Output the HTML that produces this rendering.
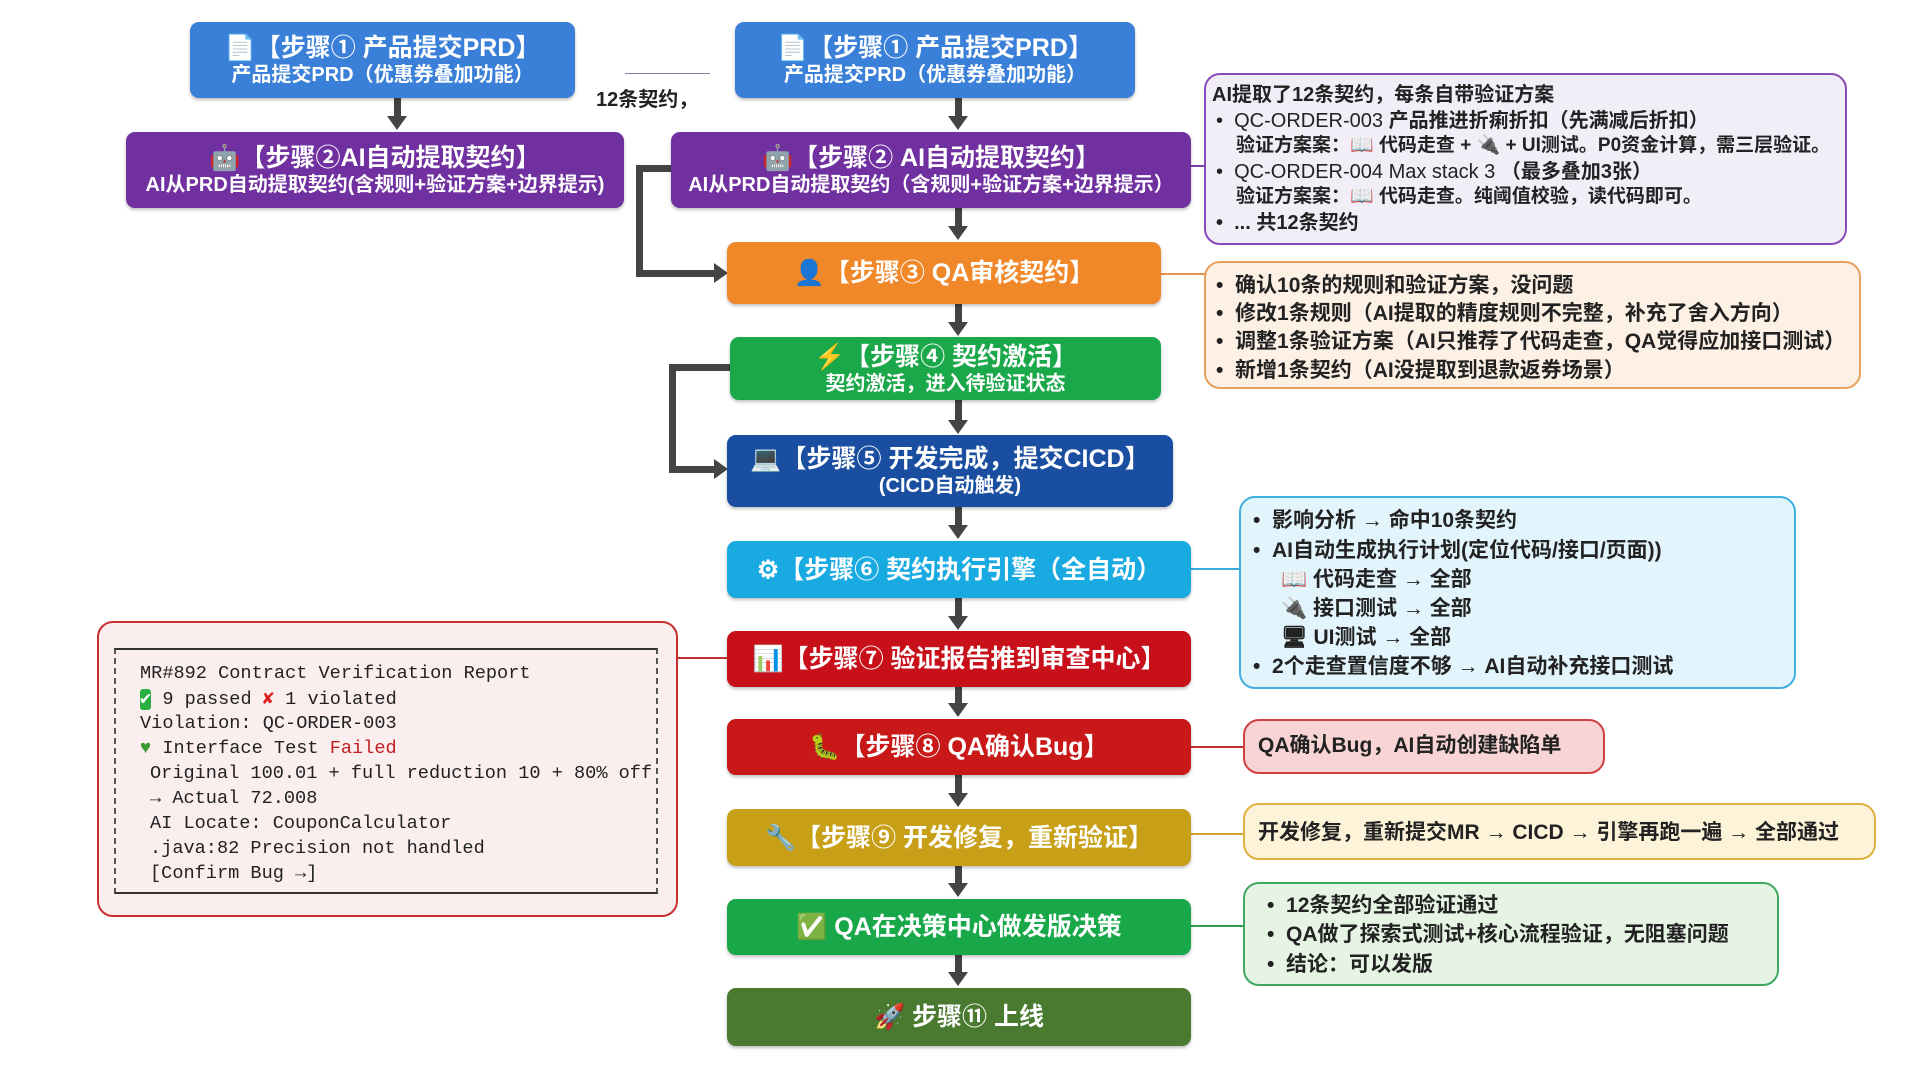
<!DOCTYPE html>
<html><head><meta charset="utf-8">
<style>
*{margin:0;padding:0;box-sizing:border-box}
body{width:1920px;height:1072px;background:#fff;position:relative;overflow:hidden;font-family:"Liberation Sans","Noto Sans CJK SC",sans-serif}
.b{position:absolute;border-radius:9px;color:#fff;display:flex;flex-direction:column;align-items:center;justify-content:center;font-weight:bold;box-shadow:0 2px 3px rgba(0,0,0,.25);text-align:center;white-space:nowrap}
.t{font-size:25px;line-height:30px}
.s{font-size:20px;line-height:24px}
.n{position:absolute;border-radius:16px;border:2px solid;font-weight:bold;color:#222;white-space:nowrap}
.n div{position:absolute;font-size:20px;line-height:24px}
.ln{position:absolute;background:#444}
.ar{position:absolute;width:0;height:0;border-left:10px solid transparent;border-right:10px solid transparent;border-top:14px solid #444}
.arr{position:absolute;width:0;height:0;border-top:10px solid transparent;border-bottom:10px solid transparent;border-left:14px solid #444}
.c{position:absolute;height:2px}
.mono{position:absolute;font-family:"Liberation Mono","DejaVu Sans Mono",monospace;font-size:18.6px;color:#222;white-space:pre}
</style></head><body>

<div class="ln" style="left:394px;top:98px;width:7px;height:20px"></div>
<div class="ar" style="left:387px;top:116px"></div>
<div class="ln" style="left:955px;top:98px;width:7px;height:20px"></div><div class="ar" style="left:948px;top:116px"></div>
<div class="ln" style="left:955px;top:208px;width:7px;height:20px"></div><div class="ar" style="left:948px;top:226px"></div>
<div class="ln" style="left:955px;top:304px;width:7px;height:20px"></div><div class="ar" style="left:948px;top:322px"></div>
<div class="ln" style="left:955px;top:400px;width:7px;height:22px"></div><div class="ar" style="left:948px;top:420px"></div>
<div class="ln" style="left:955px;top:507px;width:7px;height:20px"></div><div class="ar" style="left:948px;top:525px"></div>
<div class="ln" style="left:955px;top:598px;width:7px;height:20px"></div><div class="ar" style="left:948px;top:616px"></div>
<div class="ln" style="left:955px;top:687px;width:7px;height:18px"></div><div class="ar" style="left:948px;top:703px"></div>
<div class="ln" style="left:955px;top:775px;width:7px;height:20px"></div><div class="ar" style="left:948px;top:793px"></div>
<div class="ln" style="left:955px;top:866px;width:7px;height:19px"></div><div class="ar" style="left:948px;top:883px"></div>
<div class="ln" style="left:955px;top:955px;width:7px;height:19px"></div><div class="ar" style="left:948px;top:972px"></div>
<div class="ln" style="left:636px;top:165px;width:40px;height:7px"></div>
<div class="ln" style="left:636px;top:165px;width:7px;height:112px"></div>
<div class="ln" style="left:636px;top:270px;width:80px;height:7px"></div>
<div class="arr" style="left:714px;top:263px"></div>
<div class="ln" style="left:669px;top:364px;width:64px;height:7px"></div>
<div class="ln" style="left:669px;top:364px;width:7px;height:109px"></div>
<div class="ln" style="left:669px;top:466px;width:46px;height:7px"></div>
<div class="arr" style="left:714px;top:459px"></div>

<div class="c" style="left:1191px;top:165px;width:15px;background:#7a3fa8"></div>
<div class="c" style="left:1161px;top:273px;width:45px;background:#e8904a"></div>
<div class="c" style="left:1191px;top:568px;width:50px;background:#3aa8d8"></div>
<div class="c" style="left:678px;top:657px;width:50px;background:#c03030"></div>
<div class="c" style="left:1191px;top:746px;width:54px;background:#c03030"></div>
<div class="c" style="left:1191px;top:833px;width:54px;background:#d0a030"></div>
<div class="c" style="left:1191px;top:925px;width:54px;background:#30a050"></div>
<div class="c" style="left:625px;top:73px;width:85px;height:1px;background:#8a7a9a"></div>
<div style="position:absolute;left:596px;top:83px;font-size:20px;font-weight:bold;color:#222">12条契约，</div>

<div class="b" style="left:190px;top:22px;width:385px;height:76px;background:#3a80d8"><div class="t">📄【步骤① 产品提交PRD】</div><div class="s">产品提交PRD（优惠券叠加功能）</div></div>
<div class="b" style="left:735px;top:22px;width:400px;height:76px;background:#3a80d8"><div class="t">📄【步骤① 产品提交PRD】</div><div class="s">产品提交PRD（优惠券叠加功能）</div></div>
<div class="b" style="left:126px;top:132px;width:498px;height:76px;background:#7030a0"><div class="t">🤖【步骤②AI自动提取契约】</div><div class="s">AI从PRD自动提取契约(含规则+验证方案+边界提示)</div></div>
<div class="b" style="left:671px;top:132px;width:520px;height:76px;background:#7030a0"><div class="t">🤖【步骤② AI自动提取契约】</div><div class="s">AI从PRD自动提取契约（含规则+验证方案+边界提示）</div></div>
<div class="b" style="left:727px;top:242px;width:434px;height:62px;background:#f0882a"><div class="t">👤【步骤③ QA审核契约】</div></div>
<div class="b" style="left:730px;top:337px;width:431px;height:63px;background:#1aa84a"><div class="t">⚡【步骤④ 契约激活】</div><div class="s">契约激活，进入待验证状态</div></div>
<div class="b" style="left:727px;top:435px;width:446px;height:72px;background:#1a4ea0"><div class="t">💻【步骤⑤ 开发完成，提交CICD】</div><div class="s">(CICD自动触发)</div></div>
<div class="b" style="left:727px;top:541px;width:464px;height:57px;background:#1aaae2"><div class="t">⚙【步骤⑥ 契约执行引擎（全自动）</div></div>
<div class="b" style="left:727px;top:631px;width:464px;height:56px;background:#c8101a"><div class="t">📊【步骤⑦ 验证报告推到审查中心】</div></div>
<div class="b" style="left:727px;top:719px;width:464px;height:56px;background:#c81818"><div class="t">🐛【步骤⑧ QA确认Bug】</div></div>
<div class="b" style="left:727px;top:809px;width:464px;height:57px;background:#c8a018"><div class="t">🔧【步骤⑨ 开发修复，重新验证】</div></div>
<div class="b" style="left:727px;top:899px;width:464px;height:56px;background:#18a84a"><div class="t">✅ QA在决策中心做发版决策</div></div>
<div class="b" style="left:727px;top:988px;width:464px;height:58px;background:#4a7a30"><div class="t">🚀 步骤⑪ 上线</div></div>

<div class="n" style="left:1204px;top:73px;width:643px;height:172px;border-color:#8a4ab8;background:#f2eef8">
<div style="left:6px;top:8px">AI提取了12条契约，每条自带验证方案</div>
<div style="left:10px;top:34px;font-weight:normal">•&nbsp;&nbsp;QC-ORDER-003 <b>产品推进折痢折扣（先满减后折扣）</b></div>
<div style="left:30px;top:59px;font-size:19px">验证方案案：📖 代码走查 + 🔌 + UI测试。P0资金计算，需三层验证。</div>
<div style="left:10px;top:85px;font-weight:normal">•&nbsp;&nbsp;QC-ORDER-004 Max stack 3 <b>（最多叠加3张）</b></div>
<div style="left:30px;top:110px;font-size:19px">验证方案案：📖 代码走查。纯阈值校验，读代码即可。</div>
<div style="left:10px;top:136px">•&nbsp;&nbsp;... 共12条契约</div>
</div>
<div class="n" style="left:1204px;top:261px;width:657px;height:128px;border-color:#e8a060;background:#fdf0e4">
<div style="left:10px;top:11px;font-size:21px">•&nbsp;&nbsp;确认10条的规则和验证方案，没问题</div>
<div style="left:10px;top:39px;font-size:21px">•&nbsp;&nbsp;修改1条规则（AI提取的精度规则不完整，补充了舍入方向）</div>
<div style="left:10px;top:67px;font-size:21px">•&nbsp;&nbsp;调整1条验证方案（AI只推荐了代码走查，QA觉得应加接口测试）</div>
<div style="left:10px;top:96px;font-size:21px">•&nbsp;&nbsp;新增1条契约（AI没提取到退款返券场景）</div>
</div>
<div class="n" style="left:1239px;top:496px;width:557px;height:193px;border-color:#40b0e0;background:#e2f4fc">
<div style="left:12px;top:11px;font-size:21px">•&nbsp;&nbsp;影响分析 → 命中10条契约</div>
<div style="left:12px;top:41px;font-size:21px">•&nbsp;&nbsp;AI自动生成执行计划(定位代码/接口/页面))</div>
<div style="left:40px;top:70px;font-size:21px">📖 代码走查 → 全部</div>
<div style="left:40px;top:99px;font-size:21px">🔌 接口测试 → 全部</div>
<div style="left:40px;top:128px;font-size:21px">🖥 UI测试 → 全部</div>
<div style="left:12px;top:157px;font-size:21px">•&nbsp;&nbsp;2个走查置信度不够 → AI自动补充接口测试</div>
</div>
<div class="n" style="left:1243px;top:719px;width:362px;height:55px;border-color:#d04040;background:#f8d4d4">
<div style="left:13px;top:13px;font-size:21px">QA确认Bug，AI自动创建缺陷单</div>
</div>
<div class="n" style="left:1243px;top:803px;width:633px;height:57px;border-color:#e0b040;background:#fdf3d8">
<div style="left:13px;top:16px;font-size:21px">开发修复，重新提交MR → CICD → 引擎再跑一遍 → 全部通过</div>
</div>
<div class="n" style="left:1243px;top:882px;width:536px;height:104px;border-color:#40a860;background:#e6f4e4">
<div style="left:22px;top:10px;font-size:21px">•&nbsp;&nbsp;12条契约全部验证通过</div>
<div style="left:22px;top:39px;font-size:21px">•&nbsp;&nbsp;QA做了探索式测试+核心流程验证，无阻塞问题</div>
<div style="left:22px;top:69px;font-size:21px">•&nbsp;&nbsp;结论：可以发版</div>
</div>

<div class="n" style="left:97px;top:621px;width:581px;height:296px;border-color:#c83030;background:#fbeeee"></div>
<div style="position:absolute;left:114px;top:648px;width:544px;height:246px;border-top:2px solid #333;border-bottom:2px solid #333;border-left:2px dashed #555;border-right:2px dashed #555"></div>
<div class="mono" style="left:140px;top:663px">MR#892 Contract Verification Report</div>
<div class="mono" style="left:140px;top:688px"><span style="background:#2ab040;color:#fff;border-radius:3px">✔</span> 9 passed <span style="color:#e02020;font-weight:bold">✘</span> 1 violated</div>
<div class="mono" style="left:140px;top:713px">Violation: QC-ORDER-003</div>
<div class="mono" style="left:140px;top:738px"><span style="color:#3a9a30">♥</span> Interface Test <span style="color:#c02020">Failed</span></div>
<div class="mono" style="left:150px;top:763px">Original 100.01 + full reduction 10 + 80% off</div>
<div class="mono" style="left:150px;top:788px">→ Actual 72.008</div>
<div class="mono" style="left:150px;top:813px">AI Locate: CouponCalculator</div>
<div class="mono" style="left:150px;top:838px">.java:82 Precision not handled</div>
<div class="mono" style="left:150px;top:863px">[Confirm Bug →]</div>
</body></html>
